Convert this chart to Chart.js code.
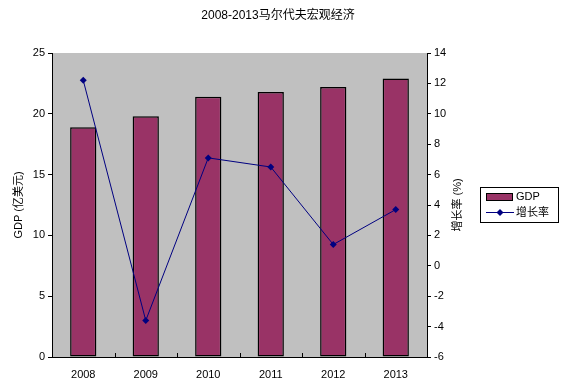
<!DOCTYPE html>
<html>
<head>
<meta charset="utf-8">
<script src="https://cdn.jsdelivr.net/npm/chart.js@4/dist/chart.umd.min.js"></script>
<style>
  html, body { margin: 0; padding: 0; background: #fff; }
  #wrap { width: 568px; height: 388px; position: relative; }
</style>
</head>
<body>
<div id="wrap"><canvas id="chart"></canvas></div>
<script>
// dados do gráfico
const years = ['2008', '2009', '2010', '2011', '2012', '2013'];
const gdp = [18.9, 19.8, 21.4, 21.8, 22.2, 22.9];
const growth = [12.2, -3.6, 7.1, 6.5, 1.4, 3.7];
const leftTicks = [0, 5, 10, 15, 20, 25];
const rightTicks = [-6, -4, -2, 0, 2, 4, 6, 8, 10, 12, 14];
const chartTitle = '2008-2013马尔代夫宏观经济';
const rightTitle = '增长率 (%)';

const FONT = '"Liberation Sans", "Noto Sans CJK SC", sans-serif';

// fundo cinza da área do gráfico + traços do eixo x + títulos
const plotBg = {
  id: 'plotBg',
  beforeDraw(chart) {
    const { ctx, chartArea: a } = chart;
    ctx.save();
    ctx.fillStyle = '#C0C0C0';
    ctx.fillRect(a.left, a.top, a.right - a.left, a.bottom - a.top);
    ctx.restore();
  },
  afterDatasetsDraw(chart) {
    const { ctx, chartArea: a } = chart;
    const x = chart.scales.x;
    ctx.save();
    ctx.strokeStyle = '#000';
    ctx.lineWidth = 1;
    for (let i = 0; i <= years.length; i++) {
      const px = Math.round(x.getPixelForValue(i - 0.5)) + 0.5;
      ctx.beginPath();
      ctx.moveTo(px, a.bottom);
      ctx.lineTo(px, a.bottom - 4);
      ctx.stroke();
    }
    ctx.restore();
  },
  afterDraw(chart) {
    const { ctx, chartArea: a } = chart;
    ctx.save();
    ctx.fillStyle = '#000';
    ctx.textAlign = 'center';
    ctx.textBaseline = 'middle';
    // título principal
    ctx.font = '12px ' + FONT;
    ctx.fillText(chartTitle, 278, 16);
    // título do eixo direito (lido de baixo para cima)
    ctx.translate(a.right + 31, (a.top + a.bottom) / 2);
    ctx.rotate(-Math.PI / 2);
    ctx.font = '11px ' + FONT;
    ctx.fillText(rightTitle, 0, 0);
    ctx.restore();
  }
};

// legenda desenhada à mão (caixa com borda)
const boxLegend = {
  id: 'boxLegend',
  afterDraw(chart) {
    const { ctx } = chart;
    const bar = chart.data.datasets.find(d => d.type === 'bar');
    const line = chart.data.datasets.find(d => d.type === 'line');
    const x0 = 480, y0 = 187, w = 78, h = 35;
    ctx.save();
    ctx.fillStyle = '#fff';
    ctx.fillRect(x0, y0, w, h);
    ctx.strokeStyle = '#000';
    ctx.lineWidth = 1;
    ctx.strokeRect(x0 + 0.5, y0 + 0.5, w, h);
    // GDP
    ctx.fillStyle = bar.backgroundColor;
    ctx.fillRect(x0 + 6, y0 + 6, 26, 7);
    ctx.strokeRect(x0 + 6.5, y0 + 6.5, 26, 7);
    // 增长率
    const ly = y0 + 25.5;
    ctx.strokeStyle = line.borderColor;
    ctx.beginPath();
    ctx.moveTo(x0 + 6, ly);
    ctx.lineTo(x0 + 34, ly);
    ctx.stroke();
    ctx.fillStyle = line.borderColor;
    ctx.beginPath();
    ctx.moveTo(x0 + 20, ly - 3.5);
    ctx.lineTo(x0 + 23.5, ly);
    ctx.lineTo(x0 + 20, ly + 3.5);
    ctx.lineTo(x0 + 16.5, ly);
    ctx.closePath();
    ctx.fill();
    ctx.fillStyle = '#000';
    ctx.font = '11px ' + FONT;
    ctx.textBaseline = 'middle';
    ctx.fillText(bar.label, x0 + 36, y0 + 10);
    ctx.fillText(line.label, x0 + 36, ly);
    ctx.restore();
  }
};

new Chart(document.getElementById('chart'), {
  data: {
    labels: years,
    datasets: [
      {
        type: 'line',
        label: '增长率',
        data: growth,
        yAxisID: 'y1',
        borderColor: '#000080',
        backgroundColor: '#000080',
        borderWidth: 1,
        pointStyle: 'rectRot',
        pointRadius: 3.5,
        pointBorderWidth: 0,
        tension: 0,
        order: 0
      },
      {
        type: 'bar',
        label: 'GDP',
        data: gdp,
        yAxisID: 'y',
        backgroundColor: '#993366',
        borderColor: '#000000',
        borderWidth: 1.5,
        borderSkipped: false,
        barPercentage: 0.42,
        categoryPercentage: 1,
        order: 1
      }
    ]
  },
  options: {
    responsive: true,
    maintainAspectRatio: false,
    animation: false,
    layout: { padding: { left: 8, right: 98, top: 53, bottom: 0 } },
    plugins: {
      legend: { display: false },
      tooltip: { enabled: false },
      title: { display: false }
    },
    scales: {
      x: {
        grid: { display: false, drawTicks: false },
        border: { color: '#000', width: 1 },
        ticks: { color: '#000', padding: 11, font: { family: FONT, size: 11 } },
        afterFit(s) { s.height = 31; }
      },
      y: {
        position: 'left',
        min: 0,
        max: 25,
        afterBuildTicks(s) { s.ticks = leftTicks.map(v => ({ value: v })); },
        grid: { drawOnChartArea: false, tickLength: 4, color: '#000' },
        border: { color: '#000', width: 1 },
        ticks: { color: '#000', padding: 3, font: { family: FONT, size: 11 } },
        title: {
          display: true,
          text: 'GDP (亿美元)',
          color: '#000',
          font: { family: FONT, size: 11 },
          padding: { top: 4, bottom: 0 }
        },
        afterFit(s) { s.width = 44; }
      },
      y1: {
        position: 'right',
        min: -6,
        max: 14,
        afterBuildTicks(s) { s.ticks = rightTicks.map(v => ({ value: v })); },
        grid: { drawOnChartArea: false, tickLength: 4, color: '#000' },
        border: { color: '#000', width: 1 },
        ticks: { color: '#000', padding: 3, font: { family: FONT, size: 11 } },
        afterFit(s) { s.width = 43; }
      }
    }
  },
  plugins: [plotBg, boxLegend]
});
</script>
</body>
</html>
